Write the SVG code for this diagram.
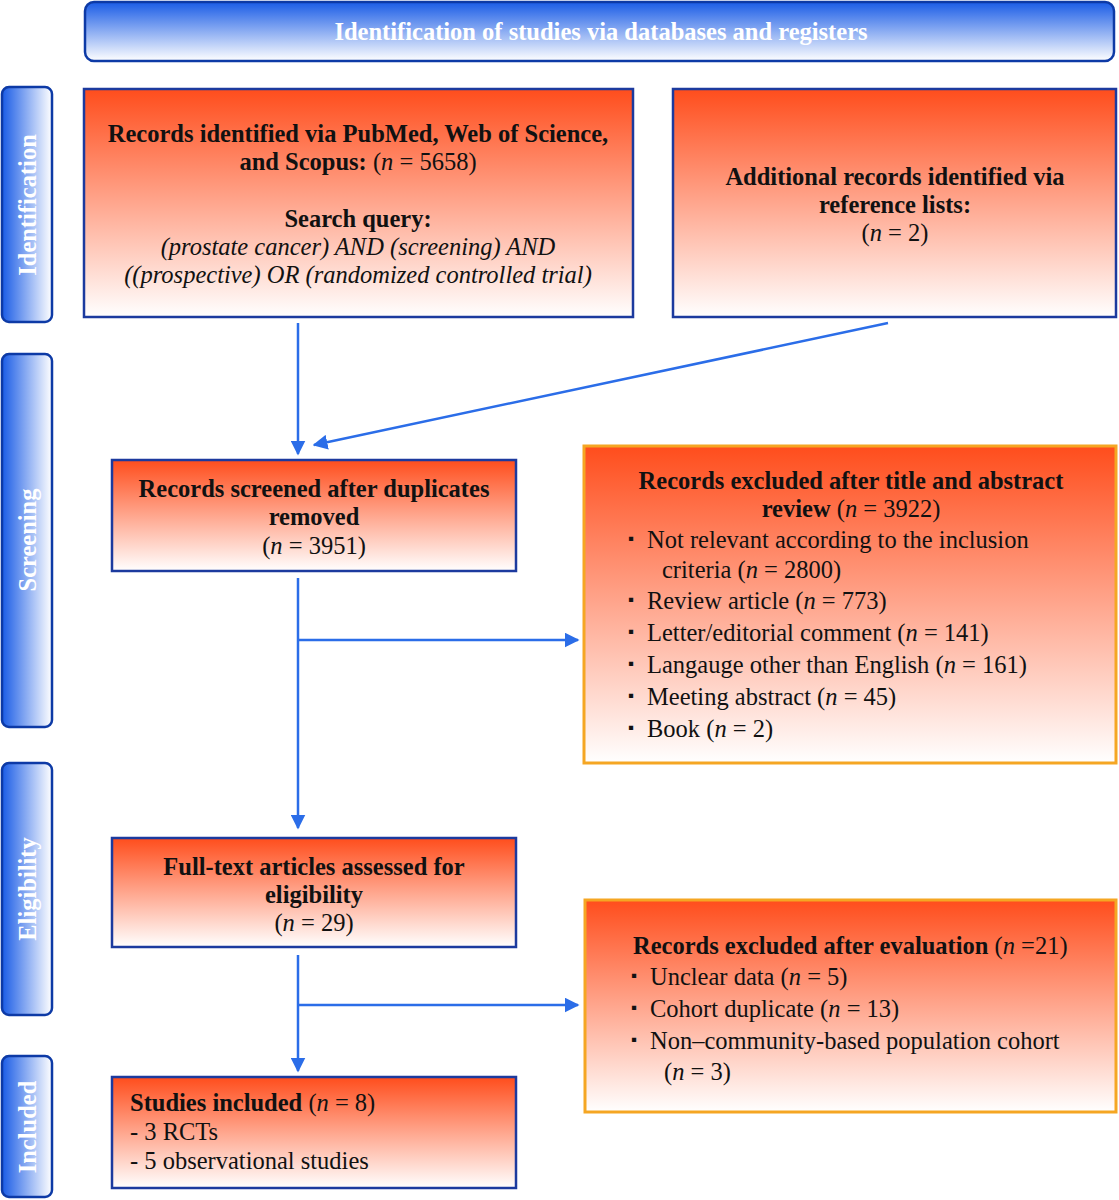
<svg xmlns="http://www.w3.org/2000/svg" width="1119" height="1200" viewBox="0 0 1119 1200">
<defs>
<linearGradient id="gOr" x1="0" y1="0" x2="0" y2="1"><stop offset="0" stop-color="#ff4d1c"/><stop offset="1" stop-color="#ffffff"/></linearGradient>
<linearGradient id="gBlV" x1="0" y1="0" x2="0" y2="1"><stop offset="0" stop-color="#1a5ce6"/><stop offset="1" stop-color="#ffffff"/></linearGradient>
<linearGradient id="gBlH" x1="0" y1="0" x2="1" y2="0"><stop offset="0" stop-color="#1a5ce6"/><stop offset="1" stop-color="#ffffff"/></linearGradient>
<marker id="ah" viewBox="0 0 10 10" refX="9" refY="5" markerWidth="6" markerHeight="6" orient="auto" markerUnits="strokeWidth"><path d="M0,0 L10,5 L0,10 z" fill="#2b6de8"/></marker>
<style>
.bx{fill:url(#gOr);stroke:#1c3a9e;stroke-width:2.5}
.bxo{fill:url(#gOr);stroke:#f5a623;stroke-width:3}
.side{fill:url(#gBlH);stroke:#0d3aa6;stroke-width:2.5}
.t{font-family:"Liberation Serif","Times New Roman",serif;font-size:24.5px;fill:#111}
.b{font-weight:bold}
.st{font-family:"Liberation Serif","Times New Roman",serif;font-size:24.5px;font-weight:bold;fill:#fff}
.c{stroke:#2b6de8;stroke-width:2.5;fill:none}
.bul{font-size:17px}
</style>
</defs>
<g id="header">
<rect x="85" y="2" width="1029" height="59" rx="9" fill="url(#gBlV)" stroke="#0d3aa6" stroke-width="2.5"/>
<text x="601" y="40" text-anchor="middle" class="st">Identification of studies via databases and registers</text>
</g>
<g id="side-identification">
<rect x="2" y="87" width="50" height="235" rx="7" class="side"/>
<text transform="translate(36,205) rotate(-90)" text-anchor="middle" class="st">Identification</text>
</g>
<g id="side-screening">
<rect x="2" y="354" width="50" height="373" rx="7" class="side"/>
<text transform="translate(36,540) rotate(-90)" text-anchor="middle" class="st">Screening</text>
</g>
<g id="side-eligibility">
<rect x="2" y="763" width="50" height="252" rx="7" class="side"/>
<text transform="translate(36,889) rotate(-90)" text-anchor="middle" class="st">Eligibility</text>
</g>
<g id="side-included">
<rect x="2" y="1056" width="50" height="141" rx="7" class="side"/>
<text transform="translate(36,1127) rotate(-90)" text-anchor="middle" class="st">Included</text>
</g>
<g id="box-records">
<rect x="84" y="89" width="549" height="228" class="bx"/>
<text x="358" y="142" text-anchor="middle" class="t b">Records identified via PubMed, Web of Science,</text>
<text x="358" y="170" text-anchor="middle" class="t"><tspan class="b">and Scopus:</tspan> (<tspan font-style="italic">n</tspan> = 5658)</text>
<text x="358" y="227" text-anchor="middle" class="t b">Search query:</text>
<text x="358" y="255" text-anchor="middle" class="t" font-style="italic">(prostate cancer) AND (screening) AND</text>
<text x="358" y="283" text-anchor="middle" class="t" font-style="italic">((prospective) OR (randomized controlled trial)</text>
</g>
<g id="box-additional">
<rect x="673" y="89" width="443" height="228" class="bx"/>
<text x="895" y="185" text-anchor="middle" class="t b">Additional records identified via</text>
<text x="895" y="213" text-anchor="middle" class="t b">reference lists:</text>
<text x="895" y="241" text-anchor="middle" class="t">(<tspan font-style="italic">n</tspan> = 2)</text>
</g>
<g id="box-screened">
<rect x="112" y="460" width="404" height="111" class="bx"/>
<text x="314" y="497" text-anchor="middle" class="t b">Records screened after duplicates</text>
<text x="314" y="525" text-anchor="middle" class="t b">removed</text>
<text x="314" y="554" text-anchor="middle" class="t">(<tspan font-style="italic">n</tspan> = 3951)</text>
</g>
<g id="box-excluded1">
<rect x="584" y="446" width="532" height="317" class="bxo"/>
<text x="851" y="489" text-anchor="middle" class="t b">Records excluded after title and abstract</text>
<text x="851" y="517" text-anchor="middle" class="t"><tspan class="b">review</tspan> (<tspan font-style="italic">n</tspan> = 3922)</text>
<text y="548" class="t"><tspan x="628" class="bul" dy="-4">▪</tspan><tspan x="647" dy="4">Not relevant according to the inclusion</tspan></text>
<text x="662" y="578" class="t">criteria (<tspan font-style="italic">n</tspan> = 2800)</text>
<text y="609" class="t"><tspan x="628" class="bul" dy="-4">▪</tspan><tspan x="647" dy="4">Review article (<tspan font-style="italic">n</tspan> = 773)</tspan></text>
<text y="641" class="t"><tspan x="628" class="bul" dy="-4">▪</tspan><tspan x="647" dy="4">Letter/editorial comment (<tspan font-style="italic">n</tspan> = 141)</tspan></text>
<text y="673" class="t"><tspan x="628" class="bul" dy="-4">▪</tspan><tspan x="647" dy="4">Langauge other than English (<tspan font-style="italic">n</tspan> = 161)</tspan></text>
<text y="705" class="t"><tspan x="628" class="bul" dy="-4">▪</tspan><tspan x="647" dy="4">Meeting abstract (<tspan font-style="italic">n</tspan> = 45)</tspan></text>
<text y="737" class="t"><tspan x="628" class="bul" dy="-4">▪</tspan><tspan x="647" dy="4">Book (<tspan font-style="italic">n</tspan> = 2)</tspan></text>
</g>
<g id="box-fulltext">
<rect x="112" y="838" width="404" height="109" class="bx"/>
<text x="314" y="875" text-anchor="middle" class="t b">Full-text articles assessed for</text>
<text x="314" y="903" text-anchor="middle" class="t b">eligibility</text>
<text x="314" y="931" text-anchor="middle" class="t">(<tspan font-style="italic">n</tspan> = 29)</text>
</g>
<g id="box-excluded2">
<rect x="585" y="900" width="531" height="212" class="bxo"/>
<text x="633" y="954" class="t"><tspan class="b">Records excluded after evaluation</tspan> (<tspan font-style="italic">n</tspan> =21)</text>
<text y="985" class="t"><tspan x="631" class="bul" dy="-4">▪</tspan><tspan x="650" dy="4">Unclear data (<tspan font-style="italic">n</tspan> = 5)</tspan></text>
<text y="1017" class="t"><tspan x="631" class="bul" dy="-4">▪</tspan><tspan x="650" dy="4">Cohort duplicate (<tspan font-style="italic">n</tspan> = 13)</tspan></text>
<text y="1049" class="t"><tspan x="631" class="bul" dy="-4">▪</tspan><tspan x="650" dy="4">Non–community-based population cohort</tspan></text>
<text x="664" y="1080" class="t">(<tspan font-style="italic">n</tspan> = 3)</text>
</g>
<g id="box-included">
<rect x="112" y="1077" width="404" height="111" class="bx"/>
<text x="130" y="1111" class="t"><tspan class="b">Studies included</tspan> (<tspan font-style="italic">n</tspan> = 8)</text>
<text x="130" y="1140" class="t">- 3 RCTs</text>
<text x="130" y="1169" class="t">- 5 observational studies</text>
</g>
<g id="connectors">
<line x1="298" y1="323" x2="298" y2="454" class="c" marker-end="url(#ah)"/>
<line x1="888" y1="323" x2="314" y2="445" class="c" marker-end="url(#ah)"/>
<line x1="298" y1="578" x2="298" y2="828" class="c" marker-end="url(#ah)"/>
<line x1="298" y1="640" x2="578" y2="640" class="c" marker-end="url(#ah)"/>
<line x1="298" y1="955" x2="298" y2="1071" class="c" marker-end="url(#ah)"/>
<line x1="298" y1="1005" x2="578" y2="1005" class="c" marker-end="url(#ah)"/>
</g>
</svg>
